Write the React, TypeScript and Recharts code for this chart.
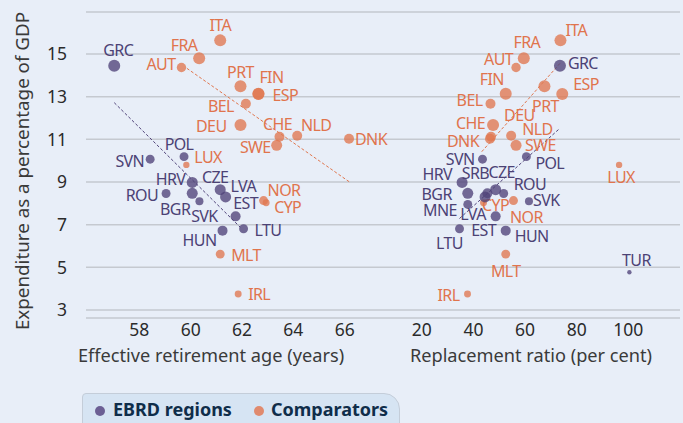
import { CSSProperties } from "react";
import {
  CartesianGrid,
  ReferenceLine,
  Scatter,
  ScatterChart,
  XAxis,
  YAxis,
  ZAxis,
} from "recharts";

// EBRD regions
const ebrdCountries = ["GRC", "POL", "SVN", "HRV", "CZE", "ROU", "BGR", "LVA", "SVK", "EST", "LTU", "HUN", "SRB", "MNE", "TUR"];
const ebrdSpending = [14.45, 10.19, 10.07, 8.98, 8.64, 8.46, 8.47, 8.3, 8.1, 7.39, 6.81, 6.72, 8.47, 7.95, 4.77];
const ebrdRetirementAge = [57.02, 59.74, 58.42, 60.06, 61.15, 59.04, 60.06, 61.36, 60.34, 61.75, 62.06, 61.24, null, null, null];
const ebrdReplacement = [73.5, 60.5, 43.5, 35.6, 48.6, 51.7, 37.8, 44.5, 61.5, 48.6, 34.6, 52.5, 45.4, 37.8, 100.4];
const ebrdWeight = [9, 5, 5, 7.6, 7.6, 5, 7.6, 7.6, 4, 6.25, 5, 6.25, 6.25, 5, 1.2];

// Comparators
const compCountries = ["ITA", "FRA", "AUT", "PRT", "FIN", "ESP", "BEL", "DEU", "CHE", "NLD", "SWE", "DNK", "LUX", "NOR", "CYP", "MLT", "IRL"];
const compSpending = [15.64, 14.8, 14.37, 13.49, 13.14, 13.13, 12.67, 11.67, 11.12, 11.17, 10.72, 11.03, 9.8, 8.13, 8.03, 5.62, 3.75];
const compRetirementAge = [61.15, 60.33, 59.64, 61.94, 62.64, 62.64, 62.15, 61.94, 63.46, 64.15, 63.35, 66.17, 59.83, 62.84, 62.94, 61.15, 61.85];
const compReplacement = [73.7, 59.5, 56.5, 67.5, 52.5, 74.4, 46.6, 47.6, 46.8, 54.6, 56.5, 46.4, 96.4, 55.5, 43.9, 52.5, 37.7];
const compWeight = [9, 9, 5.5, 9, 9, 9, 6.25, 9, 6.25, 6.25, 7.6, 6.25, 2.5, 5, 3, 5, 3];

// fitted lines (end points)
const ebrdAgeTrend = [{ x: 57.02, y: 12.72 }, { x: 61.93, y: 6.88 }];
const compAgeTrend = [{ x: 59.85, y: 14.33 }, { x: 66.19, y: 9.0 }];
const ebrdRatioTrend = [{ x: 34.6, y: 7.29 }, { x: 73.5, y: 11.52 }];
const compRatioTrend = [{ x: 43.2, y: 10.42 }, { x: 73.5, y: 14.56 }];

const yTicks = [3, 5, 7, 9, 11, 13, 15];
const ageTicks = [58, 60, 62, 64, 66];
const ratioTicks = [20, 40, 60, 80, 100];

const PURPLE = "#4f4279";
const ORANGE = "#e0774f";
const PURPLE_TEXT = "#4c4275";
const ORANGE_TEXT = "#e0744d";
const BG = "#e8eef8";
const FONT = "'Noto Sans', sans-serif";

type Anchor = "start" | "middle" | "end";
// label placement relative to dot: [dx, dy, anchor]
const leftLabels: Record<string, [number, number, Anchor]> = {
  GRC: [4, -16, "middle"], ITA: [0, -15, "middle"], FRA: [-15, -13, "middle"], AUT: [-6, -3, "end"],
  PRT: [0, -14, "middle"], FIN: [13, -17, "middle"], ESP: [14, 1, "start"], BEL: [-12, 2, "end"],
  DEU: [-14, 1, "end"], CHE: [-2, -13, "middle"], NLD: [19, -11, "middle"], SWE: [-6, 2, "end"],
  DNK: [6, 0, "start"], POL: [-5, -13, "middle"], SVN: [-6, 2, "end"], LUX: [8, -8, "start"],
  HRV: [-7, -3, "end"], CZE: [-5, -13, "middle"], ROU: [-8, 1, "end"], BGR: [-2, 16, "end"],
  LVA: [5, -11, "start"], SVK: [5, 15, "middle"], EST: [10, -13, "middle"], LTU: [11, 1, "start"],
  HUN: [-6, 9, "end"], NOR: [4, -11, "start"], CYP: [8, 4, "start"], MLT: [11, 1, "start"],
  IRL: [10, 0, "start"],
};
const rightLabels: Record<string, [number, number, Anchor]> = {
  ITA: [5, -10, "start"], FRA: [3, -16, "middle"], AUT: [-3, -8, "end"], GRC: [8, -3, "start"],
  FIN: [-14, -15, "middle"], ESP: [11, -10, "start"], PRT: [1, 20, "middle"], BEL: [-8, -4, "end"],
  CHE: [-6, -14, "end"], DNK: [-11, 2, "end"], DEU: [11, -10, "start"], NLD: [11, -7, "start"],
  SWE: [9, 0, "start"], SVN: [-8, 0, "end"], POL: [9, 6, "start"], LUX: [2, 12, "middle"],
  HRV: [-10, -8, "end"], SRB: [-12, -20, "middle"], CZE: [6, -18, "middle"], ROU: [10, -10, "start"],
  BGR: [-16, 1, "end"], MNE: [-11, 6, "end"], LVA: [-12, 17, "middle"], CYP: [12, 2, "middle"],
  NOR: [13, 16, "middle"], SVK: [4, -1, "start"], EST: [-12, 14, "middle"], LTU: [-10, 14, "middle"],
  HUN: [9, 5, "start"], MLT: [0, 17, "middle"], IRL: [-8, 1, "end"], TUR: [7, -12, "middle"],
};

const build = (codes: string[], xs: (number | null)[], ys: number[], ws: number[]) =>
  codes
    .map((code, i) => ({ code, x: xs[i], y: ys[i], w: ws[i] }))
    .filter((d) => d.x !== null);

const ebrdAge = build(ebrdCountries, ebrdRetirementAge, ebrdSpending, ebrdWeight);
const compAge = build(compCountries, compRetirementAge, compSpending, compWeight);
const ebrdRatio = build(ebrdCountries, ebrdReplacement, ebrdSpending, ebrdWeight);
const compRatio = build(compCountries, compReplacement, compSpending, compWeight);

const makeShape =
  (fill: string, textFill: string, place: Record<string, [number, number, Anchor]>) =>
  (props: any) => {
    const { cx, cy, payload } = props;
    const r = props.width ? props.width / 2 : Math.sqrt((props.size || 20) / Math.PI);
    const p = place[payload.code] || [6, 0, "start"];
    return (
      <g>
        <circle cx={cx} cy={cy} r={r} fill={fill} fillOpacity={0.78} />
        <text
          x={cx + p[0]}
          y={cy + p[1]}
          textAnchor={p[2]}
          dominantBaseline="central"
          fill={textFill}
          fontSize={16}
          letterSpacing={-0.6}
          fontFamily={FONT}
        >
          {payload.code}
        </text>
      </g>
    );
  };

const tickStyle = { fill: "#2b2b2b", fontSize: 17.5, fontFamily: FONT };
const gridStroke = "#c5c9d0";

const abs = (s: CSSProperties): CSSProperties => ({ position: "absolute", ...s });
const titleStyle: CSSProperties = { whiteSpace: "nowrap", fontSize: 18.2, color: "#3a3a3a" };

export default function App() {
  return (
    <div style={abs({ left: 0, top: 0, width: 683, height: 423, background: BG, overflow: "hidden", fontFamily: FONT })}>
      <div style={abs({ left: 0, top: 0 })}>
        <ScatterChart width={400} height={372} margin={{ top: 12, right: 4, left: 0, bottom: 0 }}>
          <CartesianGrid vertical={false} stroke={gridStroke} strokeWidth={1.5} />
          <XAxis
            type="number"
            dataKey="x"
            domain={[55.92, 68]}
            ticks={ageTicks}
            height={54}
            tickSize={0}
            tickMargin={6}
            axisLine={false}
            tick={tickStyle}
          />
          <YAxis
            type="number"
            dataKey="y"
            domain={[2.625, 16.97]}
            ticks={yTicks}
            width={86}
            tickSize={0}
            tickMargin={19}
            axisLine={false}
            tick={tickStyle}
          />
          <ZAxis type="number" dataKey="w" domain={[0, 10]} range={[0, 40 * Math.PI]} />
          <ReferenceLine segment={ebrdAgeTrend} stroke={PURPLE} strokeDasharray="3 2" strokeWidth={1} />
          <ReferenceLine segment={compAgeTrend} stroke={ORANGE} strokeDasharray="3 2" strokeWidth={1} />
          <Scatter data={compAge} isAnimationActive={false} shape={makeShape(ORANGE, ORANGE_TEXT, leftLabels)} />
          <Scatter data={ebrdAge} isAnimationActive={false} shape={makeShape(PURPLE, PURPLE_TEXT, leftLabels)} />
        </ScatterChart>
      </div>
      <div style={abs({ left: 390, top: 0 })}>
        <ScatterChart width={293} height={372} margin={{ top: 12, right: 3, left: 6, bottom: 0 }}>
          <CartesianGrid vertical={false} stroke={gridStroke} strokeWidth={1.5} />
          <XAxis
            type="number"
            dataKey="x"
            domain={[10, 120]}
            ticks={ratioTicks}
            height={54}
            tickSize={0}
            tickMargin={6}
            axisLine={false}
            tick={tickStyle}
          />
          <YAxis type="number" dataKey="y" domain={[2.625, 16.97]} ticks={yTicks} width={0} hide />
          <ZAxis type="number" dataKey="w" domain={[0, 10]} range={[0, 40 * Math.PI]} />
          <ReferenceLine segment={compRatioTrend} stroke={ORANGE} strokeDasharray="3 2" strokeWidth={1} />
          <ReferenceLine segment={ebrdRatioTrend} stroke={PURPLE} strokeDasharray="3 2" strokeWidth={1} />
          <Scatter data={compRatio} isAnimationActive={false} shape={makeShape(ORANGE, ORANGE_TEXT, rightLabels)} />
          <Scatter data={ebrdRatio} isAnimationActive={false} shape={makeShape(PURPLE, PURPLE_TEXT, rightLabels)} />
        </ScatterChart>
      </div>

      {/* axis titles */}
      <div style={abs({ ...titleStyle, fontSize: 18.8, left: 22, top: 171, transform: "translate(-50%, -50%) rotate(-90deg)" })}>
        Expenditure as a percentage of GDP
      </div>
      <div style={abs({ ...titleStyle, left: 211, top: 355, transform: "translate(-50%, -50%)" })}>
        Effective retirement age (years)
      </div>
      <div style={abs({ ...titleStyle, left: 531, top: 355, transform: "translate(-50%, -50%)" })}>
        Replacement ratio (per cent)
      </div>

      {/* legend */}
      <div
        style={abs({
          left: 82,
          top: 393,
          width: 318,
          height: 40,
          background: "#d6e4f3",
          border: "1px solid #c4cdd9",
          borderRadius: "4px 16px 0 0",
          boxSizing: "border-box",
        })}
      >
        <div style={abs({ left: 12, top: 12, width: 10, height: 10, borderRadius: 5, background: "#6b5f94" })} />
        <div style={abs({ left: 30, top: 3, fontSize: 18, fontWeight: 700, color: "#0f2d4a", whiteSpace: "nowrap" })}>
          EBRD regions
        </div>
        <div style={abs({ left: 171, top: 12, width: 10, height: 10, borderRadius: 5, background: "#e08a6e" })} />
        <div style={abs({ left: 188, top: 3, fontSize: 18, fontWeight: 700, color: "#0f2d4a", whiteSpace: "nowrap" })}>
          Comparators
        </div>
      </div>
    </div>
  );
}
